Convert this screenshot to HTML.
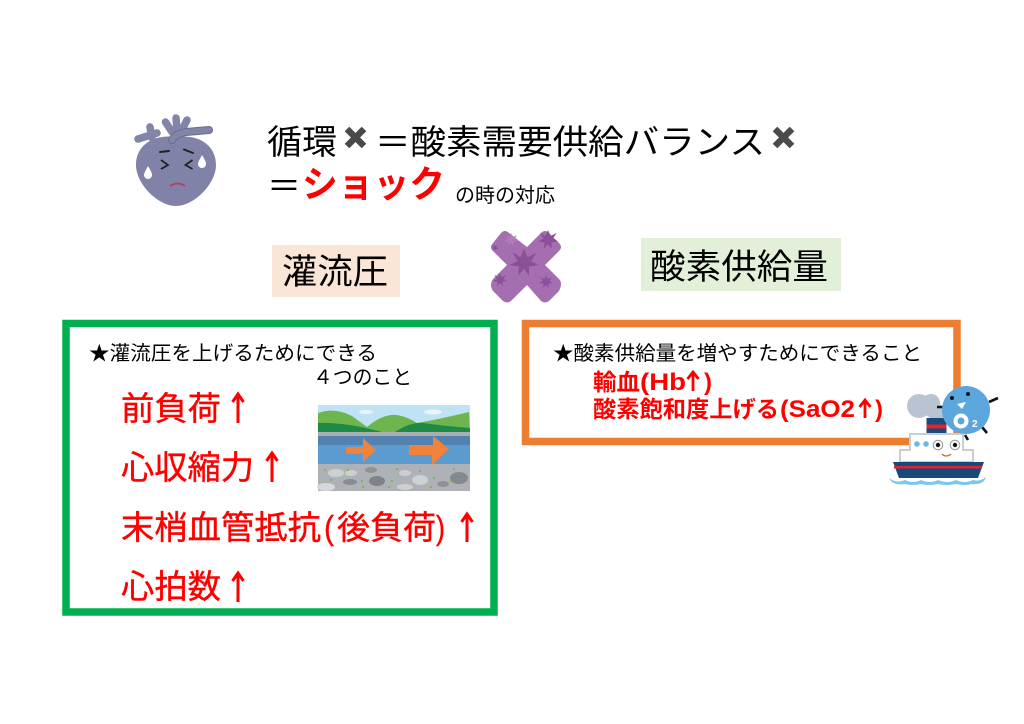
<!DOCTYPE html>
<html lang="ja"><head><meta charset="utf-8"><title>循環とショック</title>
<style>html,body{margin:0;padding:0;background:#fff}svg{display:block}
text{font-family:"Liberation Sans","Noto Sans CJK JP",sans-serif;white-space:pre}</style></head>
<body>
<svg xmlns="http://www.w3.org/2000/svg" width="1024" height="724" viewBox="0 0 1024 724">
<defs>
<path id="st" d="M0 -10 L2.5 -4 L8.5 -7 L5 -1.5 L10 1.5 L3.5 2.5 L3.5 9 L0 4 L-4 8.5 L-3.5 2.5 L-10 1.5 L-4.5 -1.5 L-8 -7.5 L-2.5 -4Z"/>
</defs>
<rect width="1024" height="724" fill="#fff"/>

<!-- heart -->
<g>
<g fill="none" stroke="#8285a8" stroke-linecap="round">
<path d="M138 139 L157 133 M150 127 L152 138 M165.500 122 L172 132 M176 118 L177 130 M187 120 L182 130" stroke-width="7.500"/>
</g>
<path d="M176 137 C200 134 216 146 216 165 C216 184 194 206 176 206 C158 206 136 184 136 165 C136 146 152 134 176 137Z" fill="#8083a7"/>
<path d="M172 140 Q175 134 186 132 L209 130" fill="none" stroke="#696c8c" stroke-width="8" stroke-linecap="round"/>
<path d="M172 140 Q175 134 186 132 L209 130" fill="none" stroke="#8285a8" stroke-width="6" stroke-linecap="round"/>
<path d="M160 152 L169 151 M184 149.500 L193 153" stroke="#222" stroke-width="2" stroke-linecap="round"/>
<path d="M161 160 L168 165 L161 169 M192.500 160 L185.500 165 L192.500 169" fill="none" stroke="#222" stroke-width="1.800"/>
<path d="M202 155 C205 160 206 162 206 164 A4 4 0 0 1 198 164 C198 162 200 159 202 155Z" fill="#fff"/>
<path d="M148 166 C151 171 152 173 152 175 A4 4 0 0 1 144 175 C144 173 146 170 148 166Z" fill="#fff"/>
<path d="M170 186 Q178 181 185 186" fill="none" stroke="#c0395f" stroke-width="1.800"/>
</g>

<!-- title -->
<text x="267" y="154" font-size="34" fill="#000" textLength="70" lengthAdjust="spacingAndGlyphs">循環</text>
<path d="M347 129 L364 146 M364 129 L347 146" stroke="#4a4a4a" stroke-width="6.500"/>
<text x="375" y="154" font-size="34" fill="#000" textLength="390" lengthAdjust="spacingAndGlyphs">＝酸素需要供給バランス</text>
<path d="M775 129 L792 146 M792 129 L775 146" stroke="#4a4a4a" stroke-width="6.500"/>
<text x="267" y="198" font-size="34" fill="#000">＝</text>
<text x="302" y="197" font-size="37" font-weight="700" fill="#ff0000" textLength="143" lengthAdjust="spacingAndGlyphs">ショック</text>
<text x="455" y="202" font-size="20" fill="#000" textLength="100" lengthAdjust="spacingAndGlyphs">の時の対応</text>

<!-- headers -->
<rect x="272" y="245" width="128" height="52" fill="#fbe5d6"/>
<text x="282" y="284" font-size="35" fill="#000" textLength="106" lengthAdjust="spacingAndGlyphs">灌流圧</text>
<rect x="641" y="238" width="200" height="53" fill="#e2f0d9"/>
<text x="650" y="279" font-size="35" fill="#000" textLength="178" lengthAdjust="spacingAndGlyphs">酸素供給量</text>

<!-- X -->
<path d="M501 233 Q505 229 509 233 L527 247 L541 233 Q545 229 549 233 L559 243 Q563 247 559 251 L545 265 L559 279 Q563 283 559 291 L549 301 Q545 304 541 301 L527 285 L511 301 Q507 304 503 301 L493 291 Q489 285 493 279 L507 265 L493 251 Q489 247 493 243Z" fill="#a56eb0"/>
<g fill="#8a5199">
<use href="#st" transform="translate(524 263) scale(1.450)"/>
<use href="#st" transform="translate(546 282) scale(.7)"/>
<use href="#st" transform="translate(548 240) scale(1)"/>
<use href="#st" transform="translate(500 280) scale(.7)"/>
<use href="#st" transform="translate(495 248) scale(.35)"/>
</g>
<use href="#st" transform="translate(511 240) scale(.7)" fill="#b07cb9"/>

<!-- green box -->
<rect x="66" y="323.500" width="428" height="288.500" fill="none" stroke="#00b050" stroke-width="7.500"/>
<text x="89" y="360" font-size="20" fill="#000" textLength="288" lengthAdjust="spacingAndGlyphs">★灌流圧を上げるためにできる</text>
<text x="313" y="384" font-size="20" fill="#000" textLength="99" lengthAdjust="spacingAndGlyphs">４つのこと</text>
<g fill="#ff0000" font-size="33" stroke="#ff0000" stroke-width=".4">
<text x="121" y="420" textLength="100" lengthAdjust="spacingAndGlyphs">前負荷</text>
<text x="121" y="479" textLength="133" lengthAdjust="spacingAndGlyphs">心収縮力</text>
<text x="121" y="539" textLength="200" lengthAdjust="spacingAndGlyphs">末梢血管抵抗</text>
<text x="324" y="539" textLength="10" lengthAdjust="spacingAndGlyphs">(</text>
<text x="337" y="539" textLength="99" lengthAdjust="spacingAndGlyphs">後負荷</text>
<text x="436" y="539" textLength="9" lengthAdjust="spacingAndGlyphs">)</text>
<text x="121" y="598" textLength="100" lengthAdjust="spacingAndGlyphs">心拍数</text>
</g>
<g fill="none" stroke="#ff0000" stroke-width="3">
<path d="M238 394 V423 M232.500 402 L238 394 L243.500 402"/>
<path d="M272 453 V482 M266.500 461 L272 453 L277.500 461"/>
<path d="M467 514 V542 M461.500 522 L467 514 L472.500 522"/>
<path d="M238 573 V602 M232.500 581 L238 573 L243.500 581"/>
</g>

<!-- river -->
<g>
<rect x="318" y="405" width="152" height="86" fill="#bfe3f5"/>
<ellipse cx="366" cy="412" rx="7" ry="2" fill="#e8f5fb"/><ellipse cx="433" cy="412" rx="9" ry="2.500" fill="#e8f5fb"/>
<path d="M318 413 Q335 407 352 416 L367 427 Q382 414 397 415 Q408 417 417 423 Q440 419 469 412 L470 433 H318Z" fill="#6eb54e"/>
<path d="M318 423 Q345 422 382 432 H395 Q410 422 423 423 Q445 426 470 428 V434 H318Z" fill="#1f8a46"/>
<rect x="318" y="432" width="152" height="5" fill="#a9aeb3"/>
<rect x="318" y="436" width="152" height="29" fill="#5b9bcf"/>
<rect x="318" y="436" width="152" height="9" fill="#5382b0"/>
<rect x="318" y="464" width="152" height="27" fill="#aeb2b6"/>
<ellipse cx="336" cy="473" rx="8" ry="4" fill="#ccd0d2"/><ellipse cx="351" cy="473" rx="6" ry="3" fill="#ccd0d2"/><ellipse cx="377" cy="481" rx="8" ry="5" fill="#7f8387"/><ellipse cx="420" cy="480" rx="8" ry="5" fill="#ccd0d2"/><ellipse cx="350" cy="482" rx="7" ry="3" fill="#888c90"/><ellipse cx="459" cy="478" rx="9" ry="6" fill="#85898d"/><ellipse cx="405" cy="473" rx="6" ry="3" fill="#ccd0d2"/><ellipse cx="371" cy="470" rx="6" ry="3" fill="#8e9296"/><ellipse cx="326" cy="487" rx="9" ry="4" fill="#d5d8da"/><ellipse cx="443" cy="484" rx="6" ry="3" fill="#8e9296"/><ellipse cx="405" cy="487" rx="8" ry="3" fill="#ccd0d2"/>
<g fill="#7cb64e"><rect x="324" y="469" width="2" height="2"/><rect x="347" y="469" width="2" height="2"/><rect x="370" y="468" width="2" height="2"/><rect x="396" y="468" width="2" height="2"/><rect x="419" y="470" width="2" height="2"/><rect x="453" y="468" width="2" height="2"/><rect x="330" y="479" width="2" height="2"/><rect x="361" y="480" width="2" height="2"/><rect x="391" y="480" width="2" height="2"/><rect x="433" y="477" width="2" height="2"/><rect x="450" y="480" width="2" height="2"/><rect x="362" y="486" width="2" height="2"/><rect x="388" y="486" width="2" height="2"/><rect x="430" y="486" width="2" height="2"/></g>
<path d="M346 447 H363 V438 L376 450 L363 462 V454 H346Z" fill="#f0823c"/>
<path d="M409 445 H433 V436 L449 449 L432 465 V455 H409Z" fill="#f0823c"/>
</g>

<!-- orange box -->
<rect x="525.500" y="323.500" width="431.500" height="118" fill="none" stroke="#ed7d31" stroke-width="7.500"/>
<text x="553" y="360" font-size="20" fill="#000" textLength="369" lengthAdjust="spacingAndGlyphs">★酸素供給量を増やすためにできること</text>
<g fill="#ff0000" font-size="23" font-weight="700">
<text x="593" y="390" textLength="47" lengthAdjust="spacingAndGlyphs">輸血</text>
<text x="640" y="390" font-size="24" textLength="46" lengthAdjust="spacingAndGlyphs">(Hb</text>
<text x="704" y="390" font-size="24" textLength="8" lengthAdjust="spacingAndGlyphs">)</text>
<text x="593" y="417" textLength="186" lengthAdjust="spacingAndGlyphs">酸素飽和度上げる</text>
<text x="780" y="417" font-size="24" textLength="75" lengthAdjust="spacingAndGlyphs">(SaO2</text>
<text x="875" y="417" font-size="24" textLength="8" lengthAdjust="spacingAndGlyphs">)</text>
</g>
<g fill="none" stroke="#ff0000" stroke-width="2.800">
<path d="M693 372 V391 M687.500 379 L693 372 L698.500 379"/>
<path d="M865 400 V418 M859.500 407 L865 400 L870.500 407"/>
</g>

<!-- ship -->
<g>
<circle cx="919" cy="406" r="12" fill="#b9c3d1"/><circle cx="931" cy="403" r="9" fill="#b9c3d1"/><ellipse cx="937" cy="412" rx="12" ry="7" fill="#b9c3d1"/>
<rect x="926.500" y="418" width="20" height="17" fill="#1b4a7c"/>
<rect x="926.500" y="424.500" width="20" height="4" fill="#e0232e"/>
<path d="M910 434 H963 V450 H973 V462 H900 V450 H910Z" fill="#fff" stroke="#c9ced3" stroke-width="2"/>
<path d="M893 462 H984 L978 478 H899Z" fill="#174a7c"/>
<rect x="894" y="466" width="88" height="2.500" fill="#e0232e"/>
<path d="M889 478 Q897 484 905 480 Q913 484 921 480 Q930 484 938 480 Q948 484 956 480 Q965 484 973 480 Q980 482 986 477 Q984 485 972 484 Q965 486 956 484 Q947 486 938 484 Q929 486 921 484 Q913 486 905 484 Q893 486 889 478Z" fill="#7cc7f0"/>
<circle cx="917" cy="444" r="2.800" fill="#6db7e8"/><circle cx="926" cy="444" r="2.800" fill="#6db7e8"/>
<circle cx="938" cy="445" r="4.800" fill="#fff" stroke="#999"/><circle cx="938" cy="445" r="2.200" fill="#111"/>
<circle cx="955" cy="445" r="4.800" fill="#fff" stroke="#999"/><circle cx="955" cy="445" r="2.200" fill="#111"/>
<path d="M942 454 Q946 458 951 454" fill="none" stroke="#b5714f" stroke-width="1.300"/>
<g stroke="#111" stroke-width="2.600"><path d="M937 407 H943 M989 402 L998 398 M982 427 L987 433 M965 435 L968 440"/></g>
<circle cx="966" cy="410" r="24" fill="#5ba7dd"/>
<circle cx="952" cy="398" r="2" fill="#111"/><circle cx="968" cy="394" r="2" fill="#111"/>
<path d="M957 404 L966 402 L962 409Z" fill="#fff"/>
<circle cx="961" cy="421" r="5.500" fill="none" stroke="#fff" stroke-width="4"/>
<text x="972" y="427" font-size="10" font-weight="700" fill="#fff">2</text>
</g>
</svg>
</body></html>
